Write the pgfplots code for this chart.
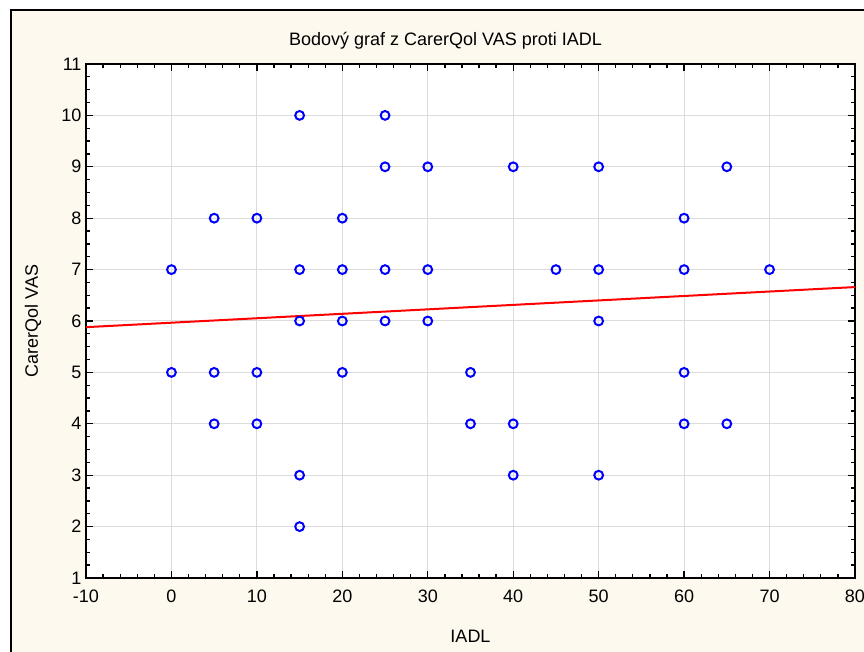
\documentclass[border=0pt]{standalone}
\usepackage{pgfplots}
\pgfplotsset{compat=1.18}
\usepackage{fontspec}
\setmainfont{Liberation Sans}
\definecolor{cream}{RGB}{253,249,238}
\definecolor{gridgray}{RGB}{220,220,220}

\begin{document}
\begin{tikzpicture}[x=1pt,y=1pt]
% page and Statistica-style graph window
\path[use as bounding box, fill=white] (0,0) rectangle (864,652);
\fill[cream] (11,0) rectangle (864,642);
\draw[black, line width=2pt] (11,0) -- (11,642) -- (864,642);
\begin{axis}[
  at={(86pt,74pt)}, anchor=south west,
  scale only axis, width=769pt, height=514pt,
  font=\fontsize{18}{21}\selectfont,
  /pgf/number format/assume math mode=true,
  xmin=-10, xmax=80, ymin=1, ymax=11,
  xtick={-10,0,...,80}, ytick={1,2,...,11},
  minor x tick num=4, minor y tick num=3,
  tick align=inside, tick pos=both,
  major tick length=7pt, minor tick length=4pt,
  every tick/.style={black, line width=1.3pt},
  axis line style={black, line width=2.3pt},
  axis background/.style={fill=white},
  grid=major, grid style={gridgray, line width=1pt},
  xticklabel style={yshift=-8pt},
  yticklabel style={xshift=-1pt},
  title={Bodový graf z CarerQol VAS proti IADL},
  title style={at={(axis description cs:0.5,1)}, anchor=center,
               xshift=-25pt, yshift=17pt},
  xlabel={IADL}, ylabel={CarerQol VAS},
  every axis x label/.style={at={(axis description cs:0.5,0)},
               anchor=center, yshift=-58pt},
  every axis y label/.style={at={(axis description cs:-0.0689,0.5)},
               anchor=center, rotate=90},
  clip=true,
]
\addplot[only marks, mark=o, mark size=4.4pt, blue,
         mark options={line width=2pt}] coordinates {
 (15,10) (25,10)
 (25,9) (30,9) (40,9) (50,9) (65,9)
 (5,8) (10,8) (20,8) (60,8)
 (0,7) (15,7) (20,7) (25,7) (30,7) (45,7) (50,7) (60,7) (70,7)
 (15,6) (20,6) (25,6) (30,6) (50,6)
 (0,5) (5,5) (10,5) (20,5) (35,5) (60,5)
 (5,4) (10,4) (35,4) (40,4) (60,4) (65,4)
 (15,3) (40,3) (50,3)
 (15,2)};
\addplot[red, line width=2pt] coordinates {(-10,5.88) (80,6.66)};
\end{axis}
\end{tikzpicture}
\end{document}
